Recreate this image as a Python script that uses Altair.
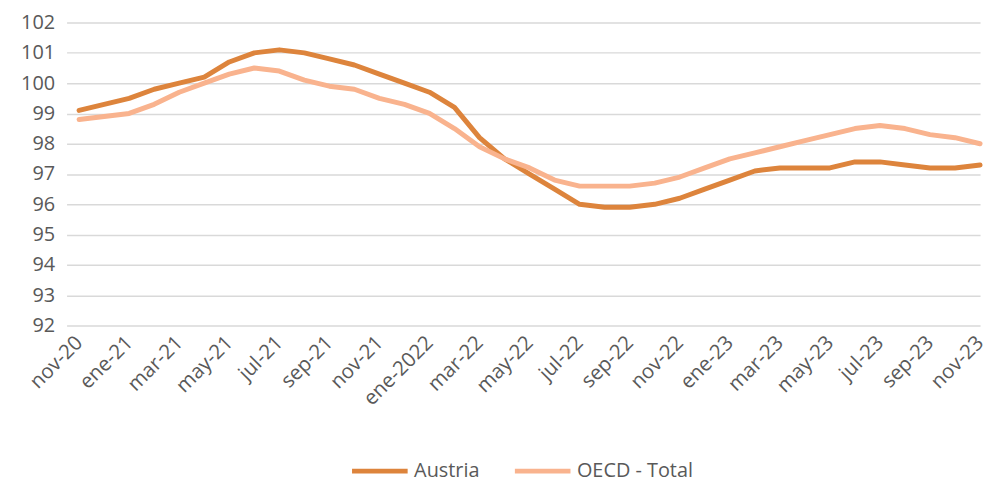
import json
import altair as alt
import pandas as pd

months = ["nov-20", "dic-20", "ene-21", "feb-21", "mar-21", "abr-21", "may-21", "jun-21",
          "jul-21", "ago-21", "sep-21", "oct-21", "nov-21", "dic-21", "ene-2022", "feb-22",
          "mar-22", "abr-22", "may-22", "jun-22", "jul-22", "ago-22", "sep-22", "oct-22",
          "nov-22", "dic-22", "ene-23", "feb-23", "mar-23", "abr-23", "may-23", "jun-23",
          "jul-23", "ago-23", "sep-23", "oct-23", "nov-23"]

austria = [99.1, 99.3, 99.5, 99.8, 100.0, 100.2, 100.7, 101.0, 101.1, 101.0, 100.8, 100.6,
           100.3, 100.0, 99.7, 99.2, 98.2, 97.5, 97.0, 96.5, 96.0, 95.9, 95.9, 96.0,
           96.2, 96.5, 96.8, 97.1, 97.2, 97.2, 97.2, 97.4, 97.4, 97.3, 97.2, 97.2, 97.3]

oecd = [98.8, 98.9, 99.0, 99.3, 99.7, 100.0, 100.3, 100.5, 100.4, 100.1, 99.9, 99.8,
        99.5, 99.3, 99.0, 98.5, 97.9, 97.5, 97.2, 96.8, 96.6, 96.6, 96.6, 96.7,
        96.9, 97.2, 97.5, 97.7, 97.9, 98.1, 98.3, 98.5, 98.6, 98.5, 98.3, 98.2, 98.0]

series_names = ["Austria", "OECD - Total"]
series_colors = ["#DD843C", "#F9B38E"]

rows = []
for name, vals in zip(series_names, [austria, oecd]):
    for i, (m, v) in enumerate(zip(months, vals)):
        rows.append({"idx": i, "month": m, "series": name, "value": v})
df = pd.DataFrame(rows)

label_expr = json.dumps(months) + "[datum.value]"
gray = "#595959"
font = "Open Sans"

chart = alt.Chart(df).mark_line(strokeWidth=5, strokeCap="round", strokeJoin="round").encode(
    x=alt.X("idx:Q",
            scale=alt.Scale(domain=[-0.5, len(months) - 1], nice=False, zero=False),
            axis=alt.Axis(values=list(range(0, len(months), 2)), labelExpr=label_expr,
                          labelAngle=-45, labelAlign="right", labelBaseline="middle",
                          labelPadding=14, grid=False, ticks=False, domain=False,
                          labelFontSize=20.5, labelColor=gray, labelFont=font,
                          labelOverlap=False, labelBound=False, title=None)),
    y=alt.Y("value:Q",
            scale=alt.Scale(domain=[92, 102], nice=False, zero=False),
            axis=alt.Axis(values=list(range(92, 103)), grid=True, gridColor="#D9D9D9",
                          gridWidth=1.5, ticks=False, domain=False, labelPadding=12,
                          labelFontSize=20, labelColor=gray, labelFont=font,
                          minExtent=59, maxExtent=59, title=None)),
    color=alt.Color("series:N",
                    scale=alt.Scale(domain=series_names, range=series_colors),
                    legend=alt.Legend(orient="none", legendX=285, legendY=421,
                                      direction="horizontal", title=None,
                                      symbolType="stroke", symbolSize=3136,
                                      symbolStrokeWidth=5, labelFontSize=20,
                                      labelColor=gray, labelFont=font,
                                      columnPadding=25, labelOffset=4)),
    order="idx:Q",
).properties(
    width=920, height=305,
    padding={"left": 0, "top": 3, "right": 0, "bottom": 0},
).configure_view(stroke=None)

chart.save("out.html", embed_options={"renderer": "svg", "actions": False})
